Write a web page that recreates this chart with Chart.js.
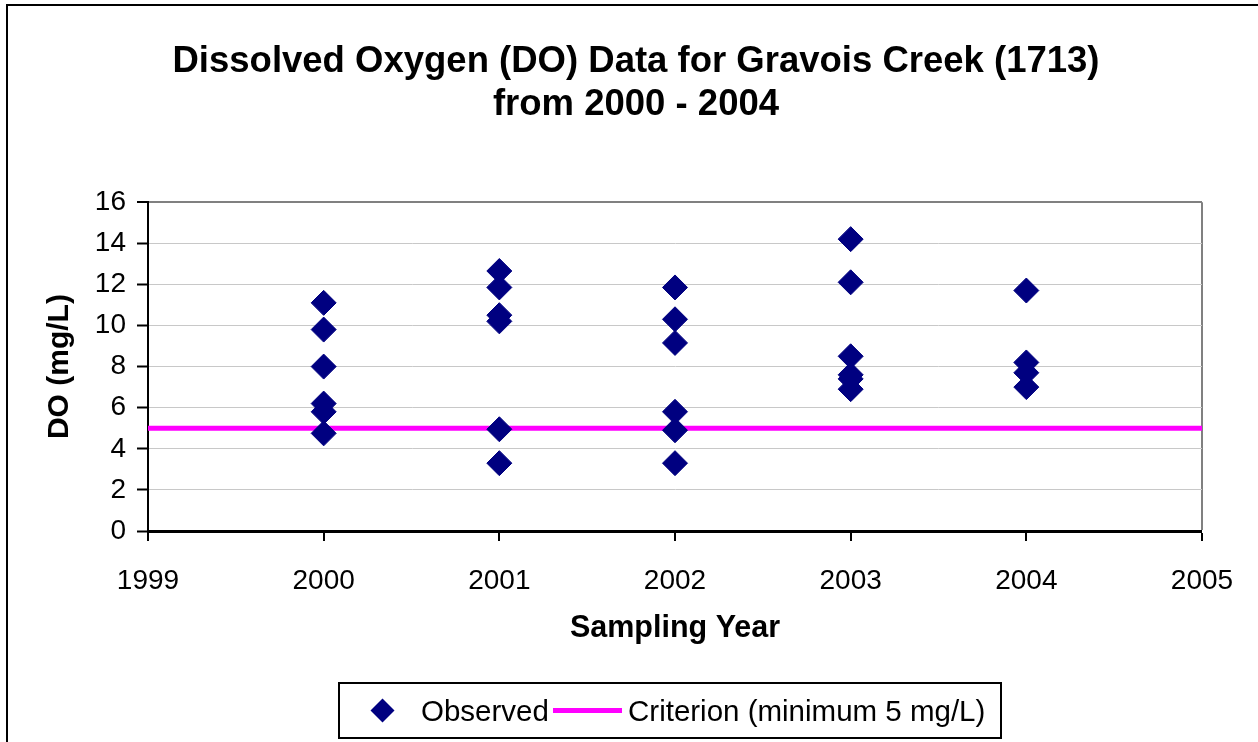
<!DOCTYPE html>
<html>
<head>
<meta charset="utf-8">
<script src="https://cdn.jsdelivr.net/npm/chart.js@4/dist/chart.umd.min.js"></script>
<style>
  html, body { margin: 0; padding: 0; background: #fff; overflow: hidden; }
  #wrap { position: relative; width: 1258px; height: 742px; }
  #frame { position: absolute; left: 6px; top: 4px; width: 1300px; height: 800px; border: 2px solid #000; }
  #chartBox { position: absolute; left: 0; top: 0; width: 1258px; height: 742px; }
  #legend { position: absolute; left: 338px; top: 682px; width: 660px; height: 53px; border: 2px solid #000;
    font-family: "Liberation Sans", Arial, sans-serif; font-size: 29.5px; color: #000; }
  .item { position: absolute; top: 0; height: 53px; line-height: 53px; white-space: nowrap; }
  .diamond { position: absolute; width: 17px; height: 17px; background: #000080; transform: rotate(45deg); }
  .swatch { position: absolute; height: 5px; background: #ff00ff; }
</style>
</head>
<body>
<div id="wrap">
  <div id="frame"></div>
  <div id="chartBox"><canvas id="chart"></canvas></div>
  <div id="legend">
    <div class="diamond" style="left:34px; top:18px;"></div>
    <div class="item" style="left:81px;">Observed</div>
    <div class="swatch" style="left:213px; width:69px; top:24px;"></div>
    <div class="item" style="left:288px;">Criterion (minimum 5 mg/L)</div>
  </div>
</div>
<script>
// DO samples per year (mg/L)
const do2000 = [11.1, 9.8, 8.0, 6.2, 5.8, 4.75];
const do2001 = [12.65, 11.85, 10.5, 10.2, 4.95, 3.3];
const do2002 = [11.85, 10.3, 9.15, 5.8, 4.9, 3.3];
const do2003 = [14.2, 12.1, 8.5, 7.6, 7.4, 6.9];
const do2004 = [11.7, 8.2, 7.7, 7.0];
const sampleYears = [2000, 2001, 2002, 2003, 2004];

const criterionYears = [1999, 2005];
const criterionDO = [5, 5];

const yTicksMin = 0, yTicksMax = 16, yStep = 2;
const xMin = 1999, xMax = 2005;

const font = '"Liberation Sans", Arial, sans-serif';

const observed = [];
[do2000, do2001, do2002, do2003, do2004].forEach((vals, i) => {
    vals.forEach(v => observed.push({ x: sampleYears[i], y: v }));
});
const criterion = criterionYears.map((yr, i) => ({ x: yr, y: criterionDO[i] }));

const ctx = document.getElementById('chart');
const chart = new Chart(ctx, {
    type: 'scatter',
    data: {
        datasets: [{
            label: 'Observed',
            data: observed,
            pointStyle: 'rectRot',
            pointRadius: 12.5,
            pointHoverRadius: 12.5,
            backgroundColor: '#000080',
            borderColor: '#000080',
            borderWidth: 1,
            order: 0
        }, {
            label: 'Criterion (minimum 5 mg/L)',
            data: criterion,
            type: 'line',
            showLine: true,
            borderColor: '#ff00ff',
            backgroundColor: '#ff00ff',
            borderWidth: 5,
            pointRadius: 0,
            fill: false,
            order: 1
        }]
    },
    options: {
        responsive: true,
        maintainAspectRatio: false,
        animation: false,
        layout: { padding: { left: 14, right: 0, top: 0, bottom: 0 } },
        plugins: {
            legend: { display: false },
            tooltip: { enabled: false },
            title: {
                display: true,
                text: ['Dissolved Oxygen (DO) Data for Gravois Creek (1713)', 'from 2000 - 2004'],
                color: '#000',
                font: { family: font, size: 36.5, weight: 'bold', lineHeight: 1.18 },
                padding: { top: 40, bottom: 76 }
            }
        },
        scales: {
            x: {
                type: 'linear',
                min: xMin,
                max: xMax,
                afterFit: scale => { scale.height = 211; },
                ticks: {
                    stepSize: 1,
                    color: '#000',
                    font: { family: font, size: 28 },
                    padding: 23,
                    callback: v => String(v)
                },
                grid: {
                    color: c => c.tick && c.tick.value === xMax ? '#808080' : 'rgba(0,0,0,0)',
                    lineWidth: c => c.tick && c.tick.value === xMax ? 2 : 0,
                    tickColor: '#000',
                    tickLength: 10,
                    tickWidth: 2
                },
                border: { color: '#000', width: 3 },
                title: {
                    display: true,
                    text: 'Sampling Year',
                    color: '#000',
                    font: { family: font, size: 30.5, weight: 'bold' },
                    padding: { top: 0, bottom: 95 }
                }
            },
            y: {
                min: yTicksMin,
                max: yTicksMax,
                afterFit: scale => { scale.width = 134; },
                ticks: {
                    stepSize: yStep,
                    color: '#000',
                    font: { family: font, size: 28 },
                    padding: 11
                },
                grid: {
                    color: c => c.tick && c.tick.value === yTicksMax ? '#808080' : '#c8c8c8',
                    lineWidth: c => c.tick && c.tick.value === yTicksMax ? 2 : 1,
                    tickColor: '#000',
                    tickLength: 11,
                    tickWidth: 2
                },
                border: { color: '#000', width: 2 },
                title: {
                    display: true,
                    text: 'DO (mg/L)',
                    color: '#000',
                    font: { family: font, size: 30, weight: 'bold' },
                    padding: { top: 28, bottom: 0 }
                }
            },
            // empty right-hand strip, keeps the plot's right edge at 2005 clear of the frame
            spacer: {
                type: 'linear',
                position: 'right',
                display: true,
                afterFit: scale => { scale.width = 56; },
                ticks: { display: false },
                grid: { display: false },
                border: { display: false }
            }
        }
    }
});
</script>
</body>
</html>
